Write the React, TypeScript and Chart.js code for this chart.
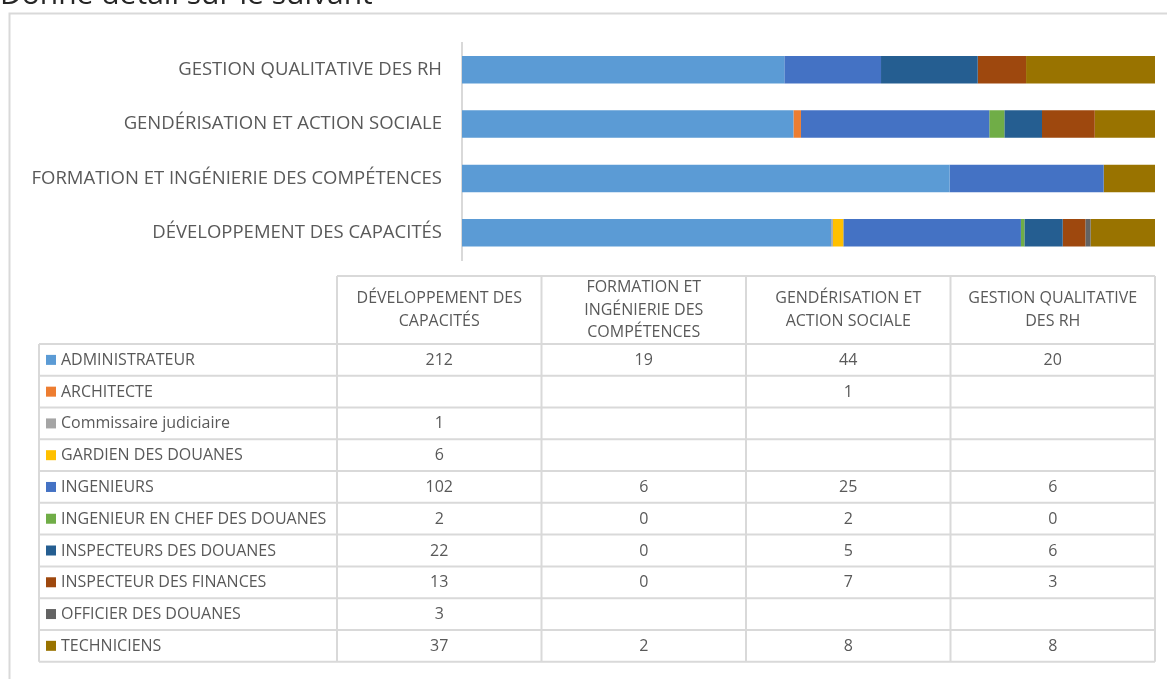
import React, { useEffect, useRef } from "react";
import { Chart, registerables } from "chart.js";

Chart.register(...registerables);

// ---------- DATA ----------
const titleText = "Donne détail sur le suivant";

const categories = [
  "DÉVELOPPEMENT DES CAPACITÉS",
  "FORMATION ET INGÉNIERIE DES COMPÉTENCES",
  "GENDÉRISATION ET ACTION SOCIALE",
  "GESTION QUALITATIVE DES RH",
];

const seriesNames = [
  "ADMINISTRATEUR",
  "ARCHITECTE",
  "Commissaire judiciaire",
  "GARDIEN DES DOUANES",
  "INGENIEURS",
  "INGENIEUR EN CHEF DES DOUANES",
  "INSPECTEURS DES DOUANES",
  "INSPECTEUR DES FINANCES",
  "OFFICIER DES DOUANES",
  "TECHNICIENS",
];

const administrateur = [212, 19, 44, 20];
const architecte = [null, null, 1, null];
const commissaire = [1, null, null, null];
const gardien = [6, null, null, null];
const ingenieurs = [102, 6, 25, 6];
const ingenieurChef = [2, 0, 2, 0];
const inspecteursDouanes = [22, 0, 5, 6];
const inspecteurFinances = [13, 0, 7, 3];
const officier = [3, null, null, null];
const techniciens = [37, 2, 8, 8];

const seriesValues: (number | null)[][] = [
  administrateur,
  architecte,
  commissaire,
  gardien,
  ingenieurs,
  ingenieurChef,
  inspecteursDouanes,
  inspecteurFinances,
  officier,
  techniciens,
];

const seriesColors = [
  "#5B9BD5",
  "#ED7D31",
  "#A5A5A5",
  "#FFC000",
  "#4472C4",
  "#70AD47",
  "#255E91",
  "#9E480E",
  "#636363",
  "#997300",
];

// ---------- STYLE ----------
const W = 1167;
const H = 679;
const FONT = "'Open Sans', sans-serif";
const TEXT = "#595959";
const LINE = "#D9D9D9";

const totals = categories.map((_, ci) =>
  seriesValues.reduce((s, arr) => s + (arr[ci] ?? 0), 0)
);

function wrap(ctx: CanvasRenderingContext2D, text: string, maxW: number) {
  const words = text.split(" ");
  const lines: string[] = [];
  let cur = "";
  for (const w of words) {
    const t = cur ? cur + " " + w : w;
    if (cur && ctx.measureText(t).width > maxW) {
      lines.push(cur);
      cur = w;
    } else cur = t;
  }
  if (cur) lines.push(cur);
  return lines;
}

const framePlugin = {
  id: "frameAndTable",
  beforeDraw(chart: any) {
    const ctx = chart.ctx as CanvasRenderingContext2D;
    ctx.save();
    ctx.fillStyle = "#ffffff";
    ctx.fillRect(0, 0, W, H);
    // title (cropped at top)
    ctx.fillStyle = "#262626";
    ctx.font = `30px ${FONT}`;
    ctx.textAlign = "left";
    ctx.textBaseline = "alphabetic";
    ctx.fillText(titleText, 0, 3.5);
    // outer frame
    ctx.strokeStyle = LINE;
    ctx.lineWidth = 2;
    ctx.beginPath();
    ctx.moveTo(W + 5, 13.5);
    ctx.lineTo(9.5, 13.5);
    ctx.lineTo(9.5, H + 5);
    ctx.stroke();
    ctx.restore();
  },
  afterDraw(chart: any) {
    const ctx = chart.ctx as CanvasRenderingContext2D;
    const area = chart.chartArea;
    const left = 39;
    const colStart = 337;
    const right = area.right;
    const headerTop = 276;
    const headerBottom = 344;
    const rowH = (661.7 - headerBottom) / seriesNames.length;
    const nCols = categories.length;
    const colW = (right - colStart) / nCols;
    const bottom = headerBottom + rowH * seriesNames.length;

    ctx.save();
    ctx.strokeStyle = LINE;
    ctx.lineWidth = 2;
    ctx.beginPath();
    ctx.moveTo(colStart, headerTop);
    ctx.lineTo(right, headerTop);
    for (let c = 0; c <= nCols; c++) {
      const x = colStart + c * colW;
      ctx.moveTo(x, headerTop);
      ctx.lineTo(x, bottom);
    }
    ctx.moveTo(left, headerBottom);
    ctx.lineTo(left, bottom);
    for (let r = 0; r <= seriesNames.length; r++) {
      const y = headerBottom + r * rowH;
      ctx.moveTo(left, y);
      ctx.lineTo(right, y);
    }
    ctx.stroke();

    // header text
    ctx.fillStyle = TEXT;
    ctx.font = `16px ${FONT}`;
    ctx.textAlign = "center";
    ctx.textBaseline = "middle";
    const lh = 22.5;
    categories.forEach((cat, c) => {
      const lines = wrap(ctx, cat, colW - 20);
      const cx = colStart + c * colW + colW / 2;
      const cy = (headerTop + headerBottom) / 2;
      lines.forEach((ln, i) => {
        ctx.fillText(ln, cx, cy + (i - (lines.length - 1) / 2) * lh);
      });
    });

    // rows
    seriesNames.forEach((name, r) => {
      const cy = headerBottom + r * rowH + rowH / 2;
      ctx.fillStyle = seriesColors[r];
      ctx.fillRect(46, cy - 5, 10, 10);
      ctx.fillStyle = TEXT;
      ctx.textAlign = "left";
      ctx.fillText(name, 61, cy + 0.5);
      ctx.textAlign = "center";
      seriesValues[r].forEach((v, c) => {
        if (v === null || v === undefined) return;
        ctx.fillText(String(v), colStart + c * colW + colW / 2, cy + 0.5);
      });
    });
    ctx.restore();
  },
};

export default function App() {
  const ref = useRef<HTMLCanvasElement>(null);

  useEffect(() => {
    if (!ref.current) return;
    const chart = new Chart(ref.current, {
      type: "bar",
      data: {
        labels: categories,
        datasets: seriesNames.map((name, i) => ({
          label: name,
          data: seriesValues[i].map((v, ci) =>
            v === null ? null : (v / totals[ci]) * 100
          ),
          backgroundColor: seriesColors[i],
          borderWidth: 0,
          barPercentage: 0.505,
          categoryPercentage: 1,
        })),
      },
      options: {
        indexAxis: "y",
        animation: false,
        responsive: false,
        devicePixelRatio: 1,
        layout: { padding: { left: 0, top: 42.5, right: W - 1155, bottom: H - 260 } },
        plugins: {
          legend: { display: false },
          tooltip: { enabled: false },
          title: { display: false },
        },
        scales: {
          x: {
            stacked: true,
            min: 0,
            max: 100,
            display: false,
          },
          y: {
            stacked: true,
            reverse: true,
            grid: { display: false, drawTicks: false },
            border: { display: true, color: LINE, width: 2 },
            ticks: {
              color: TEXT,
              font: { family: FONT, size: 18.5 },
              padding: 20,
            },
            afterFit: (scale: any) => {
              scale.width = 462;
            },
          },
        },
      },
      plugins: [framePlugin],
    } as any);
    return () => chart.destroy();
  }, []);

  return (
    <div style={{ position: "absolute", left: 0, top: 0, width: W, height: H }}>
      <canvas ref={ref} width={W} height={H} style={{ display: "block" }} />
    </div>
  );
}
